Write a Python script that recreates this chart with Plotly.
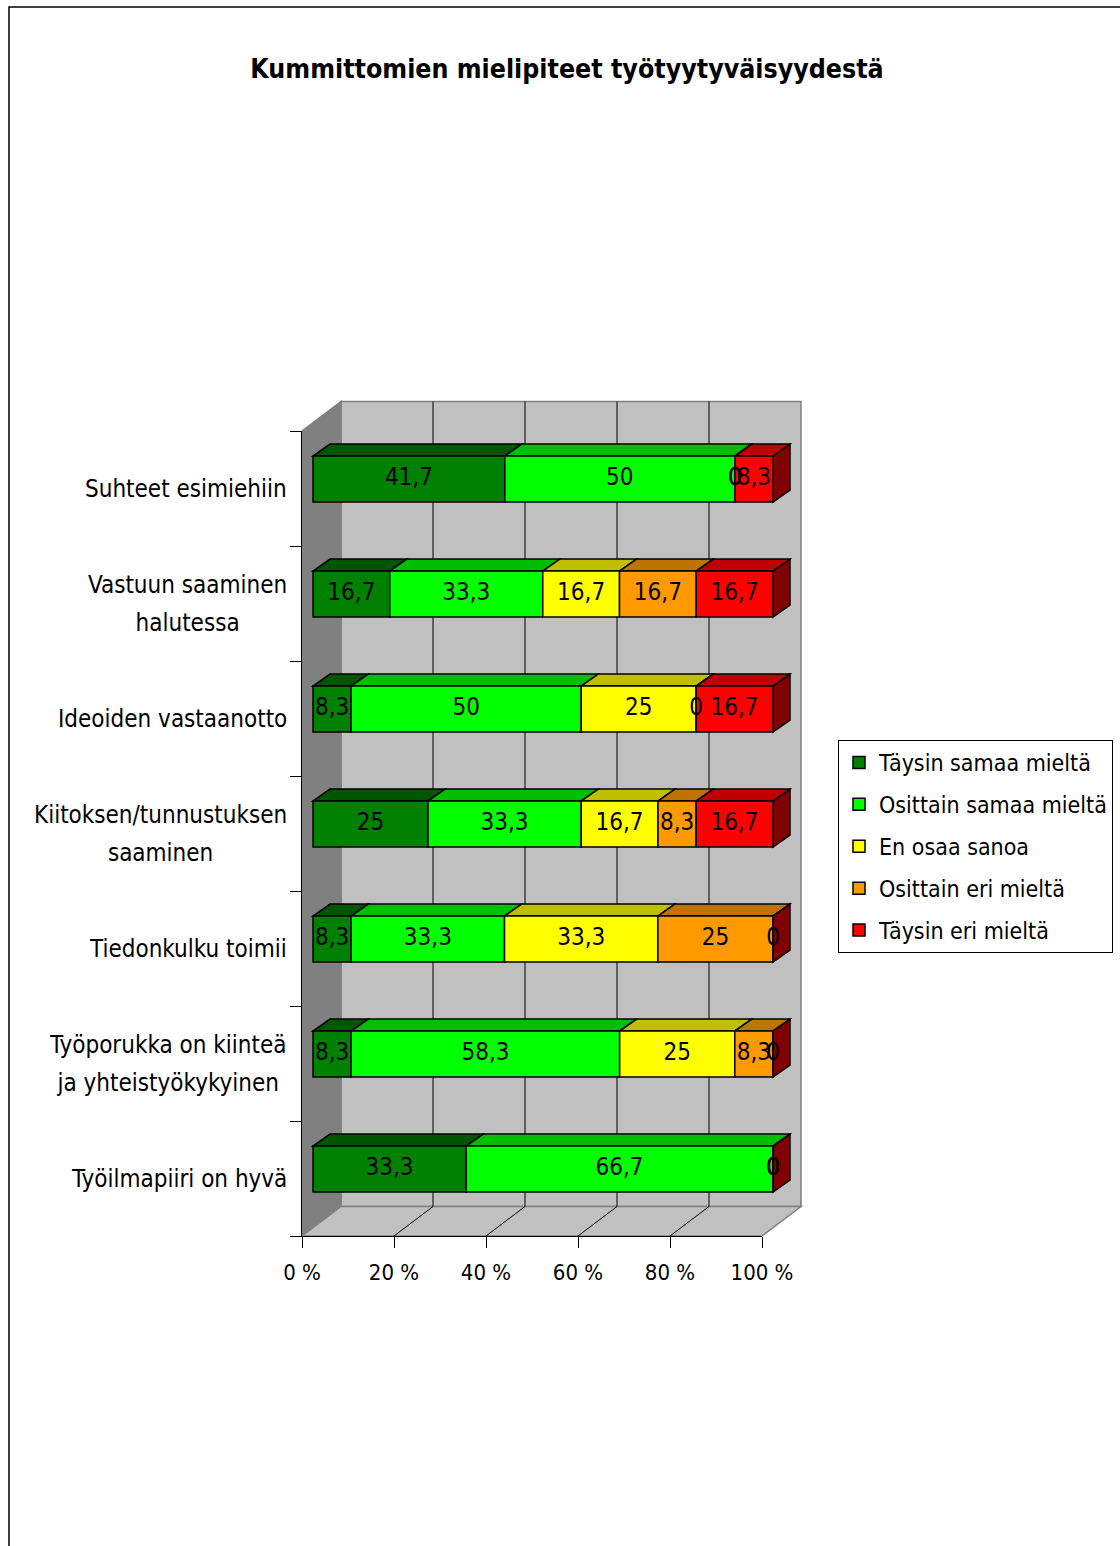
import plotly.graph_objects as go

# ---------------- data ----------------
categories = [
    "Suhteet esimiehiin",
    "Vastuun saaminen<br>halutessa",
    "Ideoiden vastaanotto",
    "Kiitoksen/tunnustuksen<br>saaminen",
    "Tiedonkulku toimii",
    "Työporukka on kiinteä<br>ja yhteistyökykyinen",
    "Työilmapiiri on hyvä",
]
series_names = [
    "Täysin samaa mieltä",
    "Osittain samaa mieltä",
    "En osaa sanoa",
    "Osittain eri mieltä",
    "Täysin eri mieltä",
]
taysin_samaa = [41.7, 16.7, 8.3, 25, 8.3, 8.3, 33.3]
osittain_samaa = [50, 33.3, 50, 33.3, 33.3, 58.3, 66.7]
en_osaa_sanoa = [0, 16.7, 25, 16.7, 33.3, 25, 0]
osittain_eri = [0, 16.7, 0, 8.3, 25, 8.3, 0]
taysin_eri = [8.3, 16.7, 16.7, 16.7, 0, 0, 0]
tick_values = [0, 20, 40, 60, 80, 100]
tick_labels = ["0 %", "20 %", "40 %", "60 %", "80 %", "100 %"]

series_values = [taysin_samaa, osittain_samaa, en_osaa_sanoa, osittain_eri, taysin_eri]

# ---------------- styles ----------------
front_colors = ["#008000", "#00FF00", "#FFFF00", "#FF9900", "#FF0000"]
top_colors = ["#005500", "#00BF00", "#BFBF00", "#BF7300", "#BF0000"]
side_color = "#800000"
wall_color = "#C0C0C0"
side_wall_color = "#808080"
FONT = "DejaVu Sans Condensed, Liberation Sans, sans-serif"
TEXT_SIZE = 24
LEGEND_SIZE = 23
TICK_SIZE = 22
TITLE_SIZE = 26.5

# ---------------- geometry (oblique 3-D look) ----------------
W, H = 1120, 1546
PX_PER_PCT = 4.6
PX_PER_CAT = 115
plot_left, plot_bottom = 302, 1236
plot_right, plot_top = 804, 399
x_max = (plot_right - plot_left) / PX_PER_PCT
y_max = (plot_bottom - plot_top) / PX_PER_CAT
n_cat = len(categories)

wall_dx = 39 / PX_PER_PCT
wall_dy = 29.5 / PX_PER_CAT
bar_x0 = 11 / PX_PER_PCT
bar_y0 = 9.4 / PX_PER_CAT
bar_dx = 17 / PX_PER_PCT
bar_dy = 12 / PX_PER_CAT
bar_h = 0.4


def path(points):
    return "M " + " L ".join(f"{x},{y}" for x, y in points) + " Z"


def fmt(v):
    return f"{v:g}".replace(".", ",")


totals = [sum(s[i] for s in series_values) for i in range(n_cat)]
shares = [[s[i] / totals[i] * 100 for i in range(n_cat)] for s in series_values]
starts = []
running = [0.0] * n_cat
for sh in shares:
    starts.append(list(running))
    running = [running[i] + sh[i] for i in range(n_cat)]

cat_center = [n_cat - i - 0.5 for i in range(n_cat)]
bar_center = [c + bar_y0 for c in cat_center]

shapes = []
# back wall, side wall, floor
shapes.append(dict(type="path", layer="below",
                   path=path([(wall_dx, wall_dy), (100 + wall_dx, wall_dy),
                              (100 + wall_dx, n_cat + wall_dy), (wall_dx, n_cat + wall_dy)]),
                   fillcolor=wall_color, line=dict(color="#808080", width=1.5)))
shapes.append(dict(type="path", layer="below",
                   path=path([(0, 0), (wall_dx, wall_dy), (wall_dx, n_cat + wall_dy), (0, n_cat)]),
                   fillcolor=side_wall_color, line=dict(color="#808080", width=1.5)))
shapes.append(dict(type="path", layer="below",
                   path=path([(0, 0), (100, 0), (100 + wall_dx, wall_dy), (wall_dx, wall_dy)]),
                   fillcolor=wall_color, line=dict(color="#808080", width=1.5)))
# gridlines on the back wall and floor
for v in tick_values[1:-1]:
    shapes.append(dict(type="line", layer="below", x0=v + wall_dx, y0=wall_dy,
                       x1=v + wall_dx, y1=n_cat + wall_dy, line=dict(color="#000000", width=1)))
    shapes.append(dict(type="line", layer="below", x0=v, y0=0,
                       x1=v + wall_dx, y1=wall_dy, line=dict(color="#000000", width=1)))

# top faces of each segment and the right end face of each bar
for k, sh in enumerate(shares):
    for i in range(n_cat):
        x0 = bar_x0 + starts[k][i]
        x1 = x0 + sh[i]
        yt = bar_center[i] + bar_h / 2
        shapes.append(dict(type="path", layer="below",
                           path=path([(x0, yt), (x1, yt), (x1 + bar_dx, yt + bar_dy), (x0 + bar_dx, yt + bar_dy)]),
                           fillcolor=top_colors[k], line=dict(color="#000000", width=1.5)))
for i in range(n_cat):
    xe = bar_x0 + running[i]
    yt = bar_center[i] + bar_h / 2
    yb = bar_center[i] - bar_h / 2
    shapes.append(dict(type="path", layer="below",
                       path=path([(xe, yb), (xe, yt), (xe + bar_dx, yt + bar_dy), (xe + bar_dx, yb + bar_dy)]),
                       fillcolor=side_color, line=dict(color="#000000", width=1.5)))

# outer frame of the chart area
shapes.append(dict(type="rect", xref="paper", yref="paper", layer="above",
                   x0=(9 - plot_left) / (plot_right - plot_left),
                   x1=(1140 - plot_left) / (plot_right - plot_left),
                   y0=(plot_bottom - 1570) / (plot_bottom - plot_top),
                   y1=(plot_bottom - 7) / (plot_bottom - plot_top),
                   line=dict(color="#000000", width=1.5), fillcolor="rgba(0,0,0,0)"))

fig = go.Figure()

# front faces of the stacked bars
for k, name in enumerate(series_names):
    fig.add_trace(go.Bar(
        orientation="h",
        y=bar_center,
        x=shares[k],
        base=[bar_x0 + s for s in starts[k]],
        width=bar_h,
        name=name,
        legendgroup=name,
        marker=dict(color=front_colors[k], line=dict(color="#000000", width=1.5)),
        hoverinfo="skip",
    ))

# value labels
for k, name in enumerate(series_names):
    fig.add_trace(go.Scatter(
        mode="text",
        x=[bar_x0 + starts[k][i] + shares[k][i] / 2 for i in range(n_cat)],
        y=bar_center,
        text=[fmt(v) for v in series_values[k]],
        textposition="middle center",
        textfont=dict(family=FONT, size=TEXT_SIZE, color="#000000"),
        showlegend=False,
        cliponaxis=False,
        hoverinfo="skip",
    ))

# carrier trace for the visible value / category axes
fig.add_trace(go.Scatter(x=[0, 100], y=[0, n_cat], xaxis="x2", yaxis="y2", mode="markers",
                         marker=dict(opacity=0), showlegend=False, hoverinfo="skip"))

# category labels (larger base size sets the line spacing of two-line labels)
annotations = []
for i, cat in enumerate(categories):
    lines = cat.split("<br>")
    txt = "<br>".join(f"<span style='font-size:{TEXT_SIZE}px'>{ln}</span>" for ln in lines)
    annotations.append(dict(x=0, y=cat_center[i], xref="x", yref="y", text=txt, showarrow=False,
                            xanchor="right", yanchor="middle", align="center", xshift=-13,
                            font=dict(family=FONT, size=29, color="#000000")))

fig.update_layout(
    width=W, height=H, autosize=False,
    margin=dict(l=plot_left, r=W - plot_right, t=plot_top, b=H - plot_bottom, pad=0,
                autoexpand=False),
    paper_bgcolor="#FFFFFF", plot_bgcolor="rgba(0,0,0,0)",
    barmode="overlay",
    showlegend=True,
    title=dict(text="<b>Kummittomien mielipiteet työtyytyväisyydestä</b>",
               x=567 / W, xanchor="center", xref="container",
               y=1 - 69 / H, yanchor="middle", yref="container",
               font=dict(family=FONT, size=TITLE_SIZE, color="#000000")),
    xaxis=dict(range=[0, x_max], visible=False, fixedrange=True),
    yaxis=dict(range=[0, y_max], visible=False, fixedrange=True),
    xaxis2=dict(range=[0, 100], domain=[0, 100 * PX_PER_PCT / (plot_right - plot_left)],
                anchor="y", tickvals=tick_values, ticktext=tick_labels,
                ticks="outside", ticklen=11, tickcolor="#000000", tickwidth=1,
                ticklabelstandoff=6,
                showline=True, linecolor="#000000", linewidth=1, showgrid=False, zeroline=False,
                tickfont=dict(family=FONT, size=TICK_SIZE, color="#000000")),
    yaxis2=dict(range=[0, n_cat], domain=[0, n_cat * PX_PER_CAT / (plot_bottom - plot_top)],
                anchor="x", tickvals=list(range(n_cat + 1)), showticklabels=False,
                ticks="outside", ticklen=11, tickcolor="#000000", tickwidth=1,
                showline=True, linecolor="#000000", linewidth=1, showgrid=False, zeroline=False),
    legend=dict(x=(838 - plot_left) / (plot_right - plot_left), xanchor="left",
                y=(plot_bottom - 740) / (plot_bottom - plot_top), yanchor="top",
                bordercolor="#000000", borderwidth=1, bgcolor="#FFFFFF",
                traceorder="grouped", tracegroupgap=9, itemwidth=30,
                font=dict(family=FONT, size=LEGEND_SIZE, color="#000000")),
    shapes=shapes,
    annotations=annotations,
)

fig.write_html("out.html")
